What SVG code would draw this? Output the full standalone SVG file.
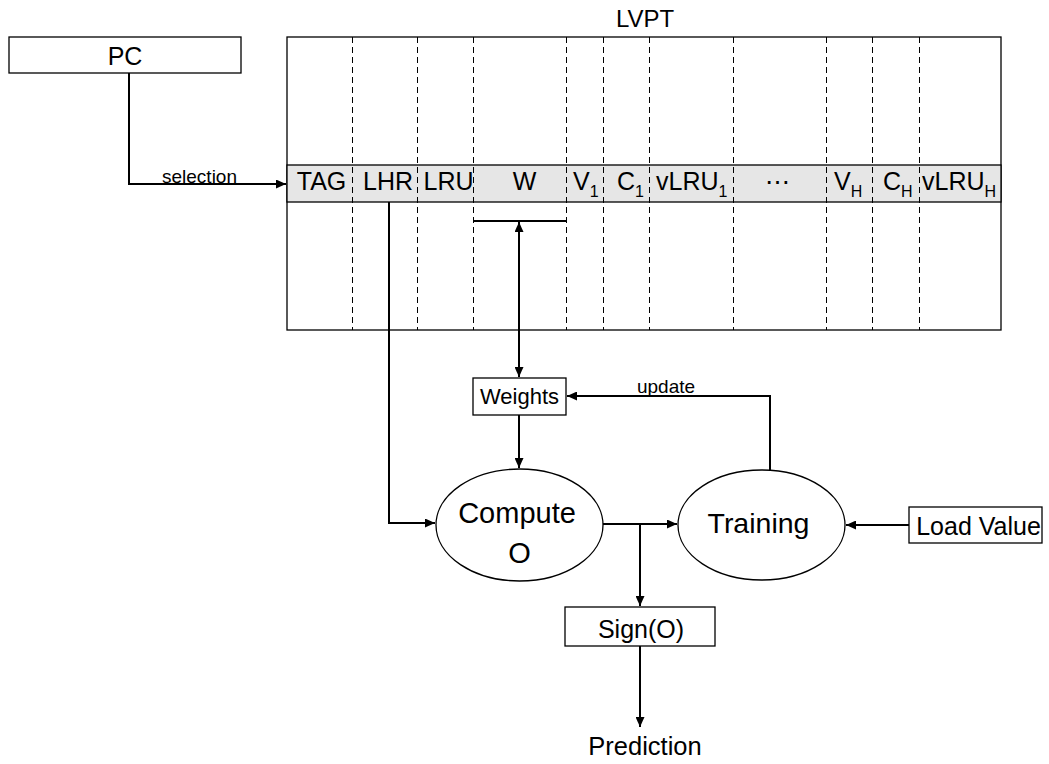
<svg xmlns="http://www.w3.org/2000/svg" width="1049" height="764" viewBox="0 0 1049 764">
<style>
text{font-family:"Liberation Sans",Arial,sans-serif;fill:#000}
.box{fill:#fff;stroke:#000;stroke-width:1.3}
.ln{fill:none;stroke:#000;stroke-width:2}
.dash{stroke:#000;stroke-width:1;stroke-dasharray:6,4}
.col{font-size:25px}
.mid{text-anchor:middle}
.sub{font-size:16px}
</style>
<defs>
<marker id="ah" viewBox="0 0 10 10" refX="10" refY="5" markerWidth="5" markerHeight="4.5" orient="auto-start-reverse" markerUnits="strokeWidth" preserveAspectRatio="none">
<path d="M0,0 L10,5 L0,10 z" fill="#000"/>
</marker>
</defs>
<rect width="1049" height="764" fill="#fff"/>
<g id="lvpt">
<text x="645" y="27" font-size="24" text-anchor="middle">LVPT</text>
<rect x="287" y="37" width="714" height="293" class="box"/>
<rect x="287" y="165" width="714" height="37" fill="#e6e6e6" stroke="#000" stroke-width="1.3"/>
<line x1="352.5" y1="37" x2="352.5" y2="330" class="dash"/>
<line x1="417.5" y1="37" x2="417.5" y2="330" class="dash"/>
<line x1="473.5" y1="37" x2="473.5" y2="330" class="dash"/>
<line x1="566.5" y1="37" x2="566.5" y2="330" class="dash"/>
<line x1="603.5" y1="37" x2="603.5" y2="330" class="dash"/>
<line x1="649.5" y1="37" x2="649.5" y2="330" class="dash"/>
<line x1="733.5" y1="37" x2="733.5" y2="330" class="dash"/>
<line x1="826.5" y1="37" x2="826.5" y2="330" class="dash"/>
<line x1="872.5" y1="37" x2="872.5" y2="330" class="dash"/>
<line x1="919.5" y1="37" x2="919.5" y2="330" class="dash"/>
<text class="col mid" x="321.5" y="190">TAG</text>
<text class="col mid" x="388" y="190">LHR</text>
<text class="col mid" x="448.5" y="190">LRU</text>
<text class="col mid" x="524.5" y="190">W</text>
<text class="col" x="573" y="190">V<tspan class="sub" dy="7">1</tspan></text>
<text class="col" x="617" y="190">C<tspan class="sub" dy="7">1</tspan></text>
<text class="col" x="656" y="190">vLRU<tspan class="sub" dy="7">1</tspan></text>
<text class="col mid" x="777" y="190">⋯</text>
<text class="col" x="834" y="190">V<tspan class="sub" dy="7">H</tspan></text>
<text class="col" x="883" y="190">C<tspan class="sub" dy="7">H</tspan></text>
<text class="col" x="922" y="190">vLRU<tspan class="sub" dy="7">H</tspan></text>
</g>
<g id="pc">
<rect x="9" y="37" width="232" height="36" class="box"/>
<text x="125" y="65" font-size="25" text-anchor="middle">PC</text>
</g>
<g id="weights">
<rect x="473" y="378" width="93" height="37" class="box"/>
<text x="519.5" y="404" font-size="22" text-anchor="middle">Weights</text>
</g>
<g id="compute">
<ellipse cx="519.5" cy="525" rx="83.5" ry="56" class="box" stroke-width="1.5"/>
<text x="517" y="523" font-size="29" text-anchor="middle">Compute</text>
<text x="519.5" y="563" font-size="29" text-anchor="middle">O</text>
</g>
<g id="training">
<ellipse cx="761.5" cy="525" rx="83.5" ry="55" class="box" stroke-width="1.5"/>
<text x="758.5" y="533" font-size="28.5" text-anchor="middle">Training</text>
</g>
<g id="loadvalue">
<rect x="909" y="507" width="133" height="36" class="box"/>
<text x="978.5" y="535" font-size="25" text-anchor="middle">Load Value</text>
</g>
<g id="sign">
<rect x="565" y="607" width="150" height="39" class="box"/>
<text x="641" y="638" font-size="25" text-anchor="middle">Sign(O)</text>
</g>
<g id="prediction">
<text x="645" y="755" font-size="25.5" text-anchor="middle">Prediction</text>
</g>
<g id="connectors">
<path d="M129,73 V184 H286" class="ln" marker-end="url(#ah)"/>
<text x="199.5" y="183" font-size="19" text-anchor="middle">selection</text>
<line x1="473" y1="221" x2="566" y2="221" class="ln"/>
<line x1="519" y1="222" x2="519" y2="377" class="ln" marker-start="url(#ah)" marker-end="url(#ah)"/>
<path d="M389,202 V523 H435" class="ln" marker-end="url(#ah)"/>
<line x1="519" y1="415" x2="519" y2="468" class="ln" marker-end="url(#ah)"/>
<path d="M770,470 V396 H567" class="ln" marker-end="url(#ah)"/>
<text x="666" y="393" font-size="19" text-anchor="middle">update</text>
<line x1="603" y1="524" x2="677" y2="524" class="ln" marker-end="url(#ah)"/>
<line x1="640" y1="524" x2="640" y2="606" class="ln" marker-end="url(#ah)"/>
<line x1="909" y1="525" x2="846" y2="525" class="ln" marker-end="url(#ah)"/>
<line x1="640" y1="646" x2="640" y2="727" class="ln" marker-end="url(#ah)"/>
</g>
</svg>
